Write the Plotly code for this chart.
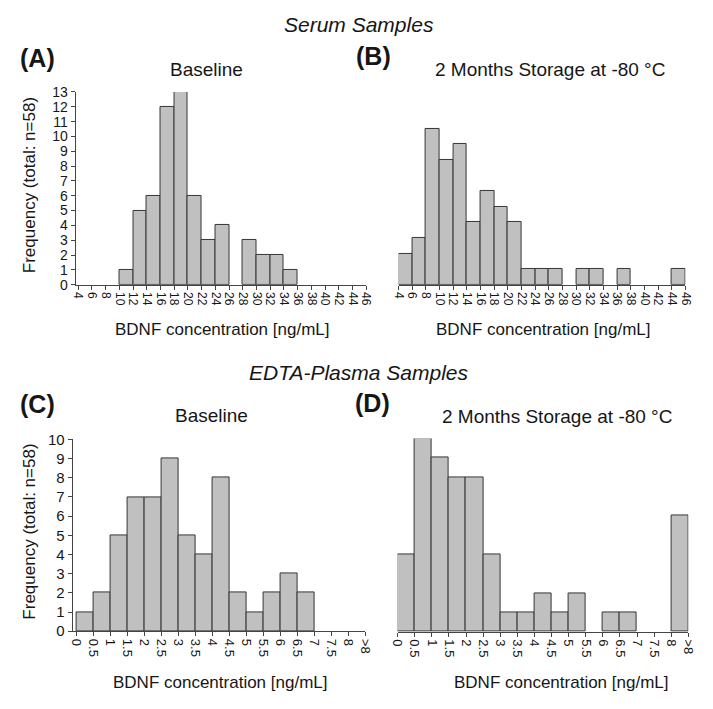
import plotly.graph_objects as go

# ---------------- data ----------------
serum_bin_starts = [4, 6, 8, 10, 12, 14, 16, 18, 20, 22, 24, 26, 28, 30, 32, 34, 36, 38, 40, 42, 44]
serum_bin_width = 2
serum_baseline_counts = [0, 0, 0, 1, 5, 6, 12, 13, 6, 3, 4, 0, 3, 2, 2, 1, 0, 0, 0, 0, 0]
serum_storage_counts = [2, 3, 10, 8, 9, 4, 6, 5, 4, 1, 1, 1, 0, 1, 1, 0, 1, 0, 0, 0, 1]
serum_tick_labels = ["4", "6", "8", "10", "12", "14", "16", "18", "20", "22", "24", "26", "28",
                     "30", "32", "34", "36", "38", "40", "42", "44", "46"]

plasma_bin_starts = [0, 0.5, 1, 1.5, 2, 2.5, 3, 3.5, 4, 4.5, 5, 5.5, 6, 6.5, 7, 7.5, 8]
plasma_bin_width = 0.5
plasma_baseline_counts = [1, 2, 5, 7, 7, 9, 5, 4, 8, 2, 1, 2, 3, 2, 0, 0, 0]
plasma_storage_counts = [4, 10, 9, 8, 8, 4, 1, 1, 2, 1, 2, 0, 1, 1, 0, 0, 6]
plasma_tick_labels = ["0", "0.5", "1", "1.5", "2", "2.5", "3", "3.5", "4", "4.5", "5", "5.5",
                      "6", "6.5", "7", "7.5", "8", ">8"]

W, H = 713, 709
FONT = "Liberation Sans, Arial, sans-serif"
TXT = "#161616"
AX = "#444444"
BAR_FILL = "#c0c0c0"
BAR_LINE = "#363636"


def px_x(p):
    return p / W


def px_y(p):
    return 1 - p / H


fig = go.Figure()


def add_hist(starts, width, counts, xa, ya):
    xs = [s + width / 2 for s, c in zip(starts, counts) if c > 0]
    ys = [c for c in counts if c > 0]
    fig.add_trace(go.Bar(
        x=xs, y=ys, width=width, xaxis=xa, yaxis=ya,
        marker=dict(color=BAR_FILL, line=dict(color=BAR_LINE, width=1)),
        showlegend=False, hoverinfo="x+y",
    ))


add_hist(serum_bin_starts, serum_bin_width, serum_baseline_counts, "x", "y")
add_hist(serum_bin_starts, serum_bin_width, serum_storage_counts, "x2", "y2")
add_hist(plasma_bin_starts, plasma_bin_width, plasma_baseline_counts, "x3", "y3")
add_hist(plasma_bin_starts, plasma_bin_width, plasma_storage_counts, "x4", "y4")

serum_tickvals = [serum_bin_starts[0] + i * serum_bin_width for i in range(len(serum_tick_labels))]
plasma_tickvals = [plasma_bin_starts[0] + i * plasma_bin_width for i in range(len(plasma_tick_labels))]


def xaxis(dom, rng, tickvals, ticktext, fsize, anchor):
    return dict(
        domain=[px_x(dom[0]), px_x(dom[1])], range=rng, showgrid=False, zeroline=False,
        anchor=anchor,
        showline=True, linecolor=AX, linewidth=1, ticks="outside", ticklen=4,
        tickcolor=AX, tickwidth=1, tickmode="array", tickvals=tickvals, ticktext=ticktext,
        tickangle=90, tickfont=dict(family=FONT, size=fsize, color=TXT), fixedrange=True,
    )


def yaxis(dom, rng, show, dtick, anchor, fsize=14):
    d = dict(
        domain=[px_y(dom[1]), px_y(dom[0])], range=rng, showgrid=False, zeroline=False,
        fixedrange=True, anchor=anchor,
    )
    if show:
        d.update(showline=True, linecolor=AX, linewidth=1, ticks="outside", ticklen=4,
                 tickcolor=AX, tickwidth=1, dtick=dtick, tick0=0,
                 tickfont=dict(family=FONT, size=fsize, color=TXT))
    else:
        d.update(showline=False, showticklabels=False, ticks="")
    return d


fig.update_layout(
    width=W, height=H, margin=dict(l=0, r=0, t=0, b=0),
    paper_bgcolor="white", plot_bgcolor="white", bargap=0,
    xaxis=xaxis((70, 367), [3.6, 46], serum_tickvals, serum_tick_labels, 12, "y"),
    yaxis=yaxis((85, 282.5), [0, 13], True, 1, "x", 14),
    xaxis2=xaxis((400, 693), [4, 46], serum_tickvals, serum_tick_labels, 12, "y2"),
    yaxis2=yaxis((85, 282.5), [0, 12.34], False, 1, "x2"),
    xaxis3=xaxis((67, 366), [-0.115, 8.5], plasma_tickvals, plasma_tick_labels, 13, "y3"),
    yaxis3=yaxis((441, 637.5), [0, 10], True, 1, "x3", 15),
    xaxis4=xaxis((399, 696), [0, 8.5], plasma_tickvals, plasma_tick_labels, 13, "y4"),
    yaxis4=yaxis((440, 638), [0, 10], False, 1, "x4"),
)


def note(text, x, y, size, bold=False, italic=False, angle=0):
    t = text
    if bold:
        t = "<b>" + t + "</b>"
    if italic:
        t = "<i>" + t + "</i>"
    fig.add_annotation(text=t, x=px_x(x), y=px_y(y), xref="paper", yref="paper",
                       xanchor="center", yanchor="middle", showarrow=False, textangle=angle,
                       font=dict(family=FONT, size=size, color=TXT))


note("Serum Samples", 360, 16, 21, italic=True)
note("(A)", 31, 50, 25, bold=True)
note("Baseline", 204, 62, 19)
note("(B)", 374, 48, 25, bold=True)
note("2 Months Storage at -80 °C", 555, 62, 19)
note("Frequency (total: n=58)", 23, 181, 17, angle=-90)
note("BDNF concentration [ng/mL]", 220, 328, 17)
note("BDNF concentration [ng/mL]", 548, 328, 17)

note("EDTA-Plasma Samples", 360, 372, 21, italic=True)
note("(C)", 31, 405, 25, bold=True)
note("Baseline", 209, 416, 19)
note("(D)", 373, 404, 25, bold=True)
note("2 Months Storage at -80 °C", 562, 417, 19)
note("Frequency (total: n=58)", 23, 536, 17, angle=-90)
note("BDNF concentration [ng/mL]", 218, 690, 17)
note("BDNF concentration [ng/mL]", 566, 690, 17)

fig.write_html("out.html", config={"displayModeBar": False},
               post_script="document.body.style.margin='0';document.body.style.overflow='hidden';")
